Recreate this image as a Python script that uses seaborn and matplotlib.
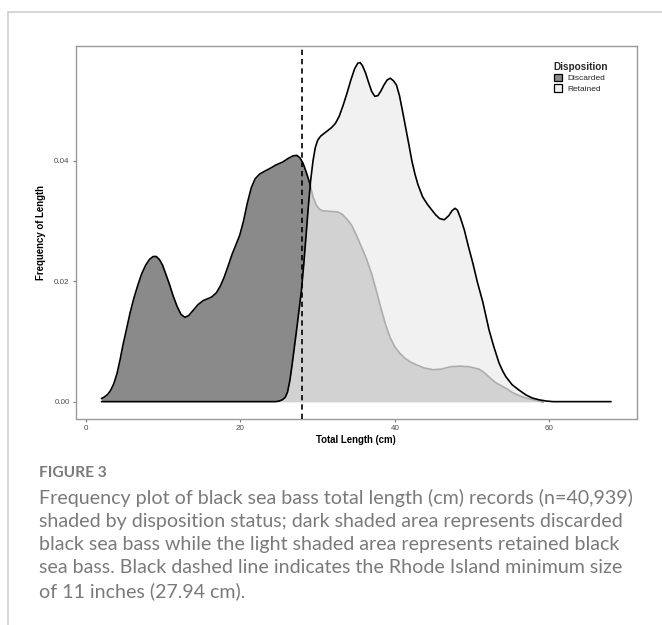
import numpy as np
import pandas as pd
import matplotlib
matplotlib.use("Agg")
import matplotlib.pyplot as plt
from matplotlib.patches import Patch
from matplotlib.lines import Line2D
import seaborn as sns

# ---- data (density of total length, cm) ----
disc_x = [2.0, 2.4, 2.8, 3.2, 3.6, 4.0, 4.4, 4.8, 5.2, 5.7, 6.2, 6.7, 7.2,
          7.7, 8.2, 8.7, 9.1, 9.5, 9.9, 10.3, 10.8, 11.3, 11.8, 12.3, 12.8,
          13.3, 13.9, 14.5, 15.2, 15.8, 16.3, 16.9, 17.4, 17.9, 18.4, 18.9,
          19.4, 19.9, 20.4, 20.9, 21.4, 21.9, 22.5, 23.2, 23.8, 24.6, 25.5,
          26.2, 26.8, 27.3, 27.7, 28.1, 28.5, 29.0, 29.4, 29.8, 30.2, 30.6,
          31.6, 32.6, 33.2, 33.8, 34.4, 35.0, 35.6, 36.3, 37.0, 37.6, 38.2,
          38.8, 39.4, 40.0, 40.6, 41.3, 42.0, 42.8, 43.8, 44.9, 46.0, 47.2,
          48.4, 49.6, 50.9, 51.6, 52.2, 53.0, 53.7, 54.4, 55.4, 56.5, 57.6,
          58.7, 59.2]
disc_y = [0.0005, 0.0008, 0.0012, 0.0019, 0.0030, 0.0046, 0.0069, 0.0095,
          0.0118, 0.0147, 0.0172, 0.0193, 0.0212, 0.0226, 0.0236, 0.0241,
          0.0241, 0.0236, 0.0227, 0.0213, 0.0195, 0.0175, 0.0158, 0.0145,
          0.0140, 0.0143, 0.0152, 0.0161, 0.0168, 0.0171, 0.0174, 0.0181,
          0.0192, 0.0207, 0.0225, 0.0244, 0.0260, 0.0276, 0.0300, 0.0330,
          0.0355, 0.0370, 0.0378, 0.0383, 0.0387, 0.0393, 0.0398, 0.0404,
          0.0408, 0.0409, 0.0405, 0.0396, 0.0382, 0.0362, 0.0340, 0.0327,
          0.0320, 0.0317, 0.0316, 0.0315, 0.0311, 0.0303, 0.0293, 0.0277,
          0.0259, 0.0238, 0.0212, 0.0184, 0.0155, 0.0128, 0.0106, 0.0091,
          0.0081, 0.0072, 0.0066, 0.0061, 0.0056, 0.0053, 0.0054, 0.0058,
          0.0059, 0.0058, 0.0054, 0.0048, 0.0041, 0.0032, 0.0027, 0.0022,
          0.0014, 0.0008, 0.0004, 0.0001, 0.0]

ret_x = [2.0, 24.6, 25.0, 25.4, 25.8, 26.1, 26.4, 26.7, 27.0, 27.3, 27.6,
         27.9, 28.2, 28.5, 28.8, 29.1, 29.4, 29.7, 30.0, 30.4, 30.8, 31.3,
         31.8, 32.3, 32.8, 33.3, 33.8, 34.3, 34.8, 35.2, 35.5, 35.8, 36.2,
         36.6, 37.0, 37.4, 37.8, 38.2, 38.6, 39.0, 39.4, 39.8, 40.2, 40.6,
         41.0, 41.4, 41.8, 42.2, 42.6, 43.0, 43.6, 44.2, 44.8, 45.3, 45.8,
         46.4, 47.0, 47.4, 47.8, 48.1, 48.5, 49.0, 49.5, 50.1, 50.7, 51.4,
         51.8, 52.2, 52.8, 53.5, 54.0, 54.4, 55.2, 56.1, 57.0, 57.8, 58.7,
         59.6, 60.5, 68.0]
ret_y = [0.0, 0.0, 0.0001, 0.0003, 0.0007, 0.0016, 0.0035, 0.0062, 0.0092,
         0.0122, 0.0153, 0.0185, 0.0228, 0.0276, 0.0325, 0.0368, 0.0400,
         0.0422, 0.0434, 0.0441, 0.0445, 0.0450, 0.0455, 0.0462, 0.0474,
         0.0492, 0.0512, 0.0534, 0.0553, 0.0562, 0.0563, 0.0558, 0.0546,
         0.0530, 0.0515, 0.0507, 0.0508, 0.0516, 0.0526, 0.0534, 0.0537,
         0.0533, 0.0526, 0.0508, 0.0482, 0.0455, 0.0428, 0.0400, 0.0378,
         0.0360, 0.0340, 0.0328, 0.0318, 0.0310, 0.0304, 0.0302, 0.0309,
         0.0317, 0.0321, 0.0318, 0.0305, 0.0285, 0.0259, 0.0230, 0.0198,
         0.0165, 0.0142, 0.0119, 0.0092, 0.0064, 0.0050, 0.0041, 0.0028,
         0.0019, 0.0011, 0.0006, 0.0003, 0.0001, 0.0, 0.0]

min_size_cm = 27.94
x_ticks = [0, 20, 40, 60]
y_ticks = [0.00, 0.02, 0.04]
y_tick_labels = ["0.00", "0.02", "0.04"]
legend_labels = ["Discarded", "Retained"]

caption_head = "FIGURE 3"
caption_lines = [
    "Frequency plot of black sea bass total length (cm) records (n=40,939)",
    "shaded by disposition status; dark shaded area represents discarded",
    "black sea bass while the light shaded area represents retained black",
    "sea bass. Black dashed line indicates the Rhode Island minimum size",
    "of 11 inches (27.94 cm).",
]

# ---- style ----
sns.set_style("white")
plt.rcParams["font.family"] = ["Liberation Sans", "DejaVu Sans"]

W, H = 662, 625
fig = plt.figure(figsize=(W / 100, H / 100), dpi=100)
ax = fig.add_axes([76 / W, 1 - 418.5 / H, (636.5 - 76) / W, (418.5 - 45.7) / H])

dark = "#8a8a8a"
ret_fill = (237 / 255, 237 / 255, 237 / 255)

disc = pd.DataFrame({"x": disc_x, "y": disc_y})
ret = pd.DataFrame({"x": ret_x, "y": ret_y})

ax.fill_between(disc["x"], 0, disc["y"], color=dark, lw=0, zorder=1)
sns.lineplot(data=disc, x="x", y="y", ax=ax, color="black", lw=1.2,
             estimator=None, sort=False, zorder=2)
ax.fill_between(ret["x"], 0, ret["y"], color=ret_fill, alpha=0.735, lw=0, zorder=3)
sns.lineplot(data=ret, x="x", y="y", ax=ax, color="black", lw=1.2,
             estimator=None, sort=False, zorder=4)

ax.axvline(min_size_cm, color="black", lw=1.2, ls=(0, (3.2, 2.4)), zorder=5)

ax.set_xlim(-1.3, 71.3)
ax.set_ylim(-0.0028, 0.0591)
ax.set_xticks(x_ticks)
ax.set_xticklabels([str(t) for t in x_ticks])
ax.set_yticks(y_ticks)
ax.set_yticklabels(y_tick_labels)

for s in ax.spines.values():
    s.set_color("#9a9a9a")
    s.set_linewidth(1.0)
ax.tick_params(axis="both", which="both", direction="out", length=2.5, width=0.8,
               color="#7a7a7a", labelsize=5.8, labelcolor="#4d4d4d", pad=2,
               bottom=True, left=True)

ax.set_xlabel("Total Length (cm)", fontsize=6.9, fontweight="bold", color="black", labelpad=2)
ax.set_ylabel("Frequency of Length", fontsize=6.9, fontweight="bold", color="black", labelpad=6)

handles = [Patch(facecolor=dark, edgecolor="black", lw=0.9),
           Patch(facecolor="#f2f2f2", edgecolor="black", lw=0.9)]
leg = ax.legend(handles, legend_labels, title="Disposition", loc="upper left",
                bbox_to_anchor=(0.846, 0.965), frameon=False, fontsize=6.0,
                title_fontsize=7.2, handlelength=1.05, handleheight=1.05,
                handletextpad=0.6, labelspacing=0.2, borderaxespad=0)
leg.get_title().set_fontweight("bold")
leg._legend_box.align = "left"

# ---- card frame and caption ----
fig.add_artist(Line2D([8 / W, 1], [1 - 12 / H, 1 - 12 / H], color="#d0d0d0", lw=1.2))
fig.add_artist(Line2D([8 / W, 8 / W], [0, 1 - 12 / H], color="#d0d0d0", lw=1.2))

cap_font = ["Lato", "DejaVu Sans"]
fig.text(39 / W, 1 - 473 / H, caption_head, fontsize=11.2, color="#7a7a7a",
         fontweight="bold", family=cap_font, va="center", ha="left")
for i, line in enumerate(caption_lines):
    fig.text(39 / W, 1 - (498 + i * 23.3) / H, line, fontsize=14.1, color="#7a7a7a",
             family=cap_font, va="center", ha="left")

fig.savefig("out.png", dpi=100)
